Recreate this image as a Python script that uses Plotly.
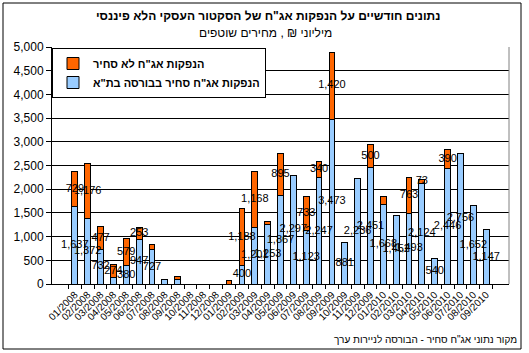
import plotly.graph_objects as go

months = ["01/2008", "02/2008", "03/2008", "04/2008", "05/2008", "06/2008", "07/2008", "08/2008",
          "09/2008", "10/2008", "11/2008", "12/2008", "01/2009", "02/2009", "03/2009", "04/2009",
          "05/2009", "06/2009", "07/2009", "08/2009", "09/2009", "10/2009", "11/2009", "12/2009",
          "01/2010", "02/2010", "03/2010", "04/2010", "05/2010", "06/2010", "07/2010", "08/2010",
          "09/2010"]
traded = [1637, 1372, 732, 130, 380, 947, 727, 105, 105, 0, 0, 0, 0, 400, 1201, 1253,
          1867, 2297, 1123, 2247, 3473, 881, 2236, 2451, 1668, 1452, 1493, 2124, 540, 2446,
          2756, 1652, 1147]
untraded = [729, 1176, 477, 274, 579, 253, 100, 0, 60, 0, 0, 0, 65, 1188, 1168, 75,
            895, 0, 733, 340, 1420, 0, 0, 500, 175, 0, 763, 73, 0, 390,
            0, 0, 0]
label_min = 200
extra_labeled_untraded = ["04/2010"]

name_traded = "הנפקות אג\"ח סחיר בבורסה בת\"א"
name_untraded = "הנפקות אג\"ח לא סחיר"
title = "נתונים חודשיים על הנפקות אג\"ח של הסקטור העסקי הלא פיננסי"
subtitle = "מיליוני ₪ , מחירים שוטפים"
footer = "מקור נתוני אג\"ח סחיר - הבורסה לניירות ערך"

W, H = 529, 353
L, R, T, B = 52, 20, 47, 69
PW, PH = W - L - R, H - T - B


def px(x):
    return (x - L) / PW


def py(y):
    return (H - B - y) / PH


FONT = "Arial, 'Liberation Sans', sans-serif"
BLUE = "#99CCFF"
ORANGE = "#FF6600"

fig = go.Figure()
fig.add_trace(go.Bar(x=months, y=traded, name="<b>" + name_traded + "</b>",
                     marker=dict(color=BLUE, line=dict(color="black", width=1)),
                     hoverinfo="skip"))
fig.add_trace(go.Bar(x=months, y=untraded, name="<b>" + name_untraded + "</b>",
                     marker=dict(color=ORANGE, line=dict(color="black", width=1)),
                     hoverinfo="skip"))

# data labels centred in each segment
bx, by, bt = [], [], []
ox, oy, ot = [], [], []
for m, t, u in zip(months, traded, untraded):
    if t >= label_min:
        bx.append(m); by.append(t / 2); bt.append(f"{t:,}")
    if u >= label_min or (u > 0 and m in extra_labeled_untraded):
        ox.append(m); oy.append(t + u / 2); ot.append(f"{u:,}")
for xs, ys, ts in ((bx, by, bt), (ox, oy, ot)):
    fig.add_trace(go.Scatter(x=xs, y=ys, text=ts, mode="text", showlegend=False,
                             textposition="middle center", hoverinfo="skip",
                             textfont=dict(family=FONT, size=11, color="black")))

fig.update_layout(
    width=W, height=H, margin=dict(l=L, r=R, t=T, b=B),
    paper_bgcolor="white", plot_bgcolor="white",
    barmode="stack", bargap=0.55,
    font=dict(family=FONT, size=11, color="black"),
    showlegend=True,
    legend=dict(x=0, y=py(48), xanchor="left", yanchor="top",
                bgcolor="white", bordercolor="black", borderwidth=1,
                font=dict(family=FONT, size=11, color="black"),
                traceorder="reversed", itemwidth=30),
    xaxis=dict(type="category", showline=True, linecolor="black", linewidth=1,
               ticks="outside", ticklen=4, tickcolor="black", tickson="boundaries",
               tickangle=-45, showgrid=False, tickfont=dict(size=10)),
    yaxis=dict(range=[0, 5000], dtick=500, tickformat=",d", showline=True,
               linecolor="black", linewidth=1, ticks="outside", ticklen=5,
               tickcolor="black", showgrid=True, gridcolor="black", gridwidth=1,
               zeroline=False, tickfont=dict(size=12)),
)

fig.add_shape(type="line", xref="paper", yref="paper", x0=1, x1=1, y0=0, y1=1,
              line=dict(color="#808080", width=1))
fig.add_shape(type="rect", xref="paper", yref="paper", x0=px(3), x1=px(521),
              y0=py(349), y1=py(3), line=dict(color="black", width=1))

fig.add_annotation(text="<b>" + title + "</b>", xref="paper", yref="paper",
                   x=px(268), y=py(16), showarrow=False, xanchor="center", yanchor="middle",
                   font=dict(family=FONT, size=12, color="black"))
fig.add_annotation(text=subtitle, xref="paper", yref="paper",
                   x=px(265), y=py(33), showarrow=False, xanchor="center", yanchor="middle",
                   font=dict(family=FONT, size=12, color="black"))
fig.add_annotation(text=footer, xref="paper", yref="paper",
                   x=px(519), y=py(339), showarrow=False, xanchor="right", yanchor="middle",
                   font=dict(family=FONT, size=10, color="black"))

fig.write_html("out.html")
